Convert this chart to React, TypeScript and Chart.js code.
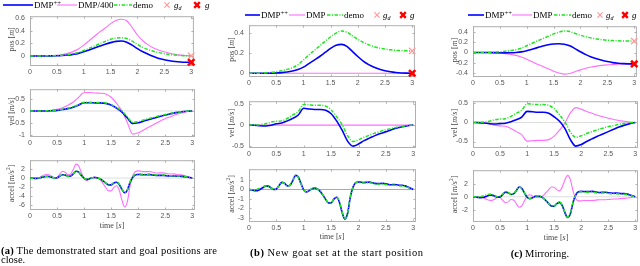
import React, { useEffect, useRef } from "react";
import { Chart, registerables } from "chart.js";

Chart.register(...registerables);

// ---------------- DATA ----------------
const timeCoarse = [0, 0.1, 0.2, 0.3, 0.4, 0.5, 0.6, 0.7, 0.8, 0.9, 1, 1.1, 1.2, 1.3, 1.4, 1.5, 1.6, 1.7, 1.8, 1.9, 2, 2.1, 2.2, 2.3, 2.4, 2.5, 2.6, 2.7, 2.8, 2.9, 3];
const timeFine = [
  0, 0.05, 0.1, 0.15, 0.2, 0.25, 0.3, 0.35, 0.4, 0.45,
  0.5, 0.55, 0.6, 0.65, 0.7, 0.75, 0.8, 0.85, 0.9, 0.95,
  1, 1.05, 1.1, 1.15, 1.2, 1.25, 1.3, 1.35, 1.4, 1.45,
  1.5, 1.55, 1.6, 1.65, 1.7, 1.75, 1.8, 1.85, 1.9, 1.95,
  2, 2.05, 2.1, 2.15, 2.2, 2.25, 2.3, 2.35, 2.4, 2.45,
  2.5, 2.55, 2.6, 2.65, 2.7, 2.75, 2.8, 2.85, 2.9, 2.95,
  3,
];
const timeEnds = [0, 3];
const zeroEnds = [0, 0];

const xTickValues = [0, 0.5, 1, 1.5, 2, 2.5, 3];
const xTickLabels = ["0", "0.5", "1", "1.5", "2", "2.5", "3"];

// (a) demonstrated start and goal close
const posDmppA = [0, 0, 0, 0, 0.001, 0.003, 0.007, 0.014, 0.025, 0.04, 0.065, 0.095, 0.125, 0.155, 0.185, 0.21, 0.23, 0.235, 0.215, 0.17, 0.115, 0.065, 0.025, -0.01, -0.04, -0.06, -0.075, -0.087, -0.095, -0.099, -0.1];
const posDmp400A = [0, 0, 0, 0.001, 0.004, 0.01, 0.022, 0.04, 0.068, 0.11, 0.17, 0.24, 0.31, 0.38, 0.44, 0.51, 0.56, 0.58, 0.555, 0.45, 0.33, 0.24, 0.175, 0.125, 0.09, 0.065, 0.042, 0.025, 0.012, 0.004, 0];
const posDemoA = [0, 0, 0, 0.001, 0.003, 0.006, 0.012, 0.022, 0.036, 0.055, 0.085, 0.12, 0.157, 0.194, 0.23, 0.262, 0.282, 0.287, 0.275, 0.235, 0.18, 0.135, 0.1, 0.073, 0.052, 0.036, 0.023, 0.013, 0.006, 0.002, 0];
const velDmppA = [0, 0, 0, 0, 0.01, 0.025, 0.06, 0.1, 0.16, 0.25, 0.35, 0.35, 0.34, 0.34, 0.32, 0.25, 0.12, -0.05, -0.3, -0.53, -0.5, -0.43, -0.36, -0.3, -0.23, -0.17, -0.12, -0.07, -0.035, -0.01, 0];
const velDmp400A = [0, 0, 0, 0.01, 0.03, 0.07, 0.14, 0.24, 0.38, 0.58, 0.78, 0.78, 0.76, 0.75, 0.72, 0.58, 0.32, 0, -0.5, -0.98, -0.92, -0.8, -0.68, -0.55, -0.43, -0.33, -0.24, -0.15, -0.08, -0.03, 0];
const velDemoA = [0, 0, 0, 0.005, 0.015, 0.035, 0.07, 0.12, 0.18, 0.27, 0.37, 0.37, 0.36, 0.36, 0.34, 0.27, 0.15, 0, -0.25, -0.48, -0.45, -0.38, -0.32, -0.26, -0.2, -0.15, -0.1, -0.06, -0.03, -0.01, 0];
const accDmppA = [
  0, -0.04, -0.08, -0.04, 0.1, 0.25, 0.36, 0.35, 0.18, 0.02,
  0.07, 0.42, 0.75, 0.66, 0.38, 0.45, 0.95, 1.5, 1.3, 0.6,
  -0.06, -0.3, -0.14, 0.06, 0.12, 0.03, -0.22, -0.63, -1.1, -1.5,
  -1.5, -1.1, -0.92, -1.45, -2.55, -3.25, -2.65, -0.95, 0.2, 0.7,
  0.8, 0.76, 0.73, 0.74, 0.76, 0.7, 0.62, 0.58, 0.6, 0.6,
  0.55, 0.48, 0.45, 0.47, 0.44, 0.39, 0.38, 0.32, 0.23, 0.11,
  0,
];
const accDmp400A = [
  0, -0.05, -0.12, 0, 0.3, 0.6, 0.8, 0.75, 0.4, 0.05,
  0.15, 0.9, 1.5, 1.3, 0.75, 0.9, 1.9, 3.1, 2.7, 1.2,
  -0.1, -0.55, -0.25, 0.15, 0.25, 0.1, -0.4, -1.2, -2.1, -2.85,
  -2.85, -2.05, -1.7, -2.7, -4.9, -6.4, -5.2, -1.7, 0.5, 1.45,
  1.6, 1.5, 1.42, 1.42, 1.45, 1.35, 1.2, 1.12, 1.15, 1.15,
  1.08, 0.95, 0.9, 0.92, 0.85, 0.75, 0.7, 0.55, 0.38, 0.18,
  0,
];
const accDemoA = [
  0, -0.03, -0.06, 0, 0.15, 0.3, 0.4, 0.38, 0.2, 0.03,
  0.08, 0.45, 0.78, 0.68, 0.4, 0.47, 0.98, 1.55, 1.35, 0.62,
  -0.05, -0.28, -0.12, 0.08, 0.14, 0.05, -0.2, -0.6, -1.05, -1.42,
  -1.42, -1.02, -0.85, -1.35, -2.45, -3.15, -2.55, -0.85, 0.3, 0.82,
  0.92, 0.88, 0.85, 0.86, 0.88, 0.8, 0.72, 0.68, 0.7, 0.7,
  0.64, 0.56, 0.52, 0.54, 0.5, 0.44, 0.42, 0.35, 0.25, 0.12,
  0,
];
const goalDemoA = 0;
const goalNewA = -0.1;

// demonstration shared by (b) and (c)
const posDemo = [0, 0, 0.001, 0.003, 0.008, 0.015, 0.025, 0.038, 0.055, 0.085, 0.13, 0.18, 0.225, 0.27, 0.315, 0.36, 0.395, 0.418, 0.405, 0.37, 0.335, 0.305, 0.28, 0.262, 0.248, 0.238, 0.231, 0.226, 0.223, 0.221, 0.22];
const velDemo = [0, 0.002, 0.01, 0.03, 0.07, 0.09, 0.1, 0.16, 0.24, 0.32, 0.49, 0.48, 0.47, 0.47, 0.45, 0.36, 0.2, 0.01, -0.25, -0.39, -0.35, -0.29, -0.24, -0.19, -0.15, -0.11, -0.08, -0.05, -0.03, -0.01, 0];
const accDemo = [
  0, -0.02, -0.05, 0.02, 0.15, 0.28, 0.38, 0.35, 0.18, 0.02,
  0.08, 0.45, 0.75, 0.65, 0.38, 0.45, 0.95, 1.5, 1.3, 0.6,
  -0.05, -0.25, -0.1, 0.1, 0.15, 0.05, -0.2, -0.6, -1.05, -1.4,
  -1.4, -1.0, -0.8, -1.3, -2.4, -3.1, -2.5, -0.8, 0.25, 0.7,
  0.75, 0.7, 0.68, 0.7, 0.72, 0.65, 0.58, 0.55, 0.57, 0.58,
  0.52, 0.46, 0.44, 0.46, 0.43, 0.38, 0.38, 0.32, 0.22, 0.1,
  0,
];

// (b) new goal at the start position
const posDmppB = [0, 0, 0, 0, 0.001, 0.003, 0.006, 0.012, 0.022, 0.037, 0.06, 0.095, 0.13, 0.165, 0.205, 0.245, 0.275, 0.285, 0.265, 0.215, 0.165, 0.12, 0.085, 0.06, 0.04, 0.025, 0.014, 0.007, 0.003, 0.001, 0];
const velDmppB = [0, -0.005, -0.015, -0.02, -0.005, 0.03, 0.05, 0.1, 0.16, 0.24, 0.4, 0.38, 0.37, 0.37, 0.35, 0.27, 0.1, -0.12, -0.38, -0.5, -0.45, -0.37, -0.31, -0.25, -0.2, -0.16, -0.11, -0.07, -0.04, -0.015, 0];
const accDmppB = [
  0, -0.05, -0.12, -0.12, 0, 0.18, 0.35, 0.35, 0.18, 0,
  0.05, 0.42, 0.75, 0.66, 0.38, 0.45, 0.95, 1.5, 1.32, 0.62,
  -0.05, -0.27, -0.12, 0.08, 0.14, 0.05, -0.2, -0.6, -1.05, -1.42,
  -1.42, -1.02, -0.82, -1.32, -2.42, -3.15, -2.55, -0.82, 0.25, 0.72,
  0.8, 0.76, 0.74, 0.76, 0.78, 0.72, 0.65, 0.62, 0.64, 0.65,
  0.6, 0.53, 0.5, 0.52, 0.5, 0.45, 0.45, 0.38, 0.27, 0.13,
  0,
];
const dmpB = [0, 0];
const goalDemoB = 0.22;
const goalNewB = 0;

// (c) mirroring
const posDmppC = [0, 0, 0, 0, -0.002, -0.005, -0.006, -0.005, 0, 0.012, 0.035, 0.065, 0.095, 0.125, 0.15, 0.165, 0.17, 0.16, 0.13, 0.075, 0.015, -0.04, -0.085, -0.12, -0.15, -0.175, -0.195, -0.207, -0.215, -0.219, -0.22];
const posDmpC = [0, 0, -0.001, -0.003, -0.008, -0.015, -0.025, -0.038, -0.055, -0.085, -0.13, -0.18, -0.225, -0.27, -0.315, -0.36, -0.395, -0.418, -0.405, -0.37, -0.335, -0.305, -0.28, -0.262, -0.248, -0.238, -0.231, -0.226, -0.223, -0.221, -0.22];
const velDmppC = [0, -0.005, -0.015, -0.03, -0.04, -0.03, -0.02, 0.02, 0.07, 0.14, 0.29, 0.28, 0.27, 0.27, 0.24, 0.15, 0.03, -0.16, -0.45, -0.62, -0.58, -0.5, -0.43, -0.36, -0.3, -0.24, -0.18, -0.12, -0.07, -0.03, 0];
const velDmpC = [0, -0.002, -0.01, -0.03, -0.07, -0.09, -0.1, -0.16, -0.24, -0.32, -0.49, -0.48, -0.47, -0.47, -0.45, -0.36, -0.2, -0.01, 0.25, 0.39, 0.35, 0.29, 0.24, 0.19, 0.15, 0.11, 0.08, 0.05, 0.03, 0.01, 0];
const accDmppC = [
  0, -0.04, -0.12, -0.15, -0.08, 0.08, 0.22, 0.25, 0.12, -0.05,
  -0.02, 0.35, 0.7, 0.62, 0.35, 0.43, 0.93, 1.48, 1.3, 0.6,
  -0.08, -0.3, -0.15, 0.06, 0.12, 0.04, -0.2, -0.6, -1.05, -1.42,
  -1.44, -1.05, -0.85, -1.35, -2.45, -3.15, -2.6, -0.85, 0.28, 0.75,
  0.82, 0.8, 0.78, 0.8, 0.82, 0.76, 0.68, 0.65, 0.68, 0.68,
  0.62, 0.56, 0.54, 0.56, 0.53, 0.48, 0.48, 0.4, 0.28, 0.14,
  0,
];
const accDmpC = [
  0, 0.02, 0.03, -0.05, -0.2, -0.38, -0.52, -0.55, -0.38, -0.12,
  -0.12, -0.55, -0.88, -0.78, -0.42, -0.5, -1.05, -1.6, -1.4, -0.65,
  0.1, 0.3, 0.12, -0.08, -0.14, -0.04, 0.22, 0.65, 1.1, 1.48,
  1.45, 1.05, 0.9, 1.5, 2.6, 3.25, 2.6, 0.85, -0.3, -0.62,
  -0.62, -0.58, -0.56, -0.56, -0.58, -0.54, -0.48, -0.45, -0.45, -0.45,
  -0.42, -0.37, -0.34, -0.33, -0.3, -0.26, -0.24, -0.2, -0.14, -0.07,
  0,
];
const goalDemoC = 0.22;
const goalNewC = -0.22;

// y ticks
const posTicksA = [0, 0.2, 0.4, 0.6];
const posLabelsA = ["0", "0.2", "0.4", "0.6"];
const velTicksA = [-1, -0.5, 0, 0.5];
const velLabelsA = ["-1", "-0.5", "0", "0.5"];
const accTicksA = [-6, -4, -2, 0, 2];
const accLabelsA = ["-6", "-4", "-2", "0", "2"];
const posTicksB = [0, 0.2, 0.4];
const posLabelsB = ["0", "0.2", "0.4"];
const velTicksB = [-0.5, 0, 0.5];
const velLabelsB = ["-0.5", "0", "0.5"];
const accTicksB = [-3, -2, -1, 0, 1];
const accLabelsB = ["-3", "-2", "-1", "0", "1"];
const posTicksC = [-0.4, -0.2, 0, 0.2, 0.4];
const posLabelsC = ["-0.4", "-0.2", "0", "0.2", "0.4"];
const velTicksC = [-0.5, 0, 0.5];
const velLabelsC = ["-0.5", "0", "0.5"];
const accTicksC = [-2, 0, 2];
const accLabelsC = ["-2", "0", "2"];

// ---------------- STYLE ----------------
const BLUE = "#0000ff";
const PINK = "#ff6eff";
const GREEN = "#1ee61e";
const GOAL_D = "#ff9a9a";
const GOAL = "#ff0000";
const ZERO = "#dcdcdc";
const GREEN_DASH = [3.5, 1.5, 1, 1.5];
const SERIF = "'Liberation Serif', 'Times New Roman', serif";
const SANS = "'Liberation Sans', Arial, sans-serif";

const PAD_L = 30, PAD_R = 6, PAD_T = 6, PAD_B = 13;

type Line = { xs: number[]; ys: number[]; color: string; width: number; dash?: number[] };
type Goal = { x: number; y: number; color: string; width: number; radius: number };
type Sub = {
  box: [number, number, number, number];
  yMin: number; yMax: number;
  yTicks: number[]; yLabels: string[];
  lines: Line[]; goals: Goal[];
};

const zeroLine = (): Line => ({ xs: timeEnds, ys: zeroEnds, color: ZERO, width: 1 });
const goals = (gd: number, g: number): Goal[] => [
  { x: 3, y: g, color: GOAL, width: 2.6, radius: 4.5 },
  { x: 3, y: gd, color: GOAL_D, width: 1.3, radius: 4.5 },
];

const subplots: Sub[] = [
  // (a)
  { box: [30, 13, 195, 66], yMin: -0.159, yMax: 0.627, yTicks: posTicksA, yLabels: posLabelsA, goals: goals(goalDemoA, goalNewA),
    lines: [
      { xs: timeCoarse, ys: posDemoA, color: GREEN, width: 1.5, dash: GREEN_DASH },
      { xs: timeCoarse, ys: posDmppA, color: BLUE, width: 1.6 },
      { xs: timeCoarse, ys: posDmp400A, color: PINK, width: 1.1 },
    ] },
  { box: [30, 86, 195, 137], yMin: -1.1, yMax: 0.92, yTicks: velTicksA, yLabels: velLabelsA, goals: [],
    lines: [
      { xs: timeCoarse, ys: velDemoA, color: GREEN, width: 1.5, dash: GREEN_DASH },
      { xs: timeCoarse, ys: velDmppA, color: BLUE, width: 1.6 },
      { xs: timeCoarse, ys: velDmp400A, color: PINK, width: 1.1 },
      zeroLine(),
    ] },
  { box: [30, 157, 195, 210], yMin: -7.08, yMax: 3.96, yTicks: accTicksA, yLabels: accLabelsA, goals: [],
    lines: [
      { xs: timeFine, ys: accDemoA, color: GREEN, width: 1.5, dash: GREEN_DASH },
      { xs: timeFine, ys: accDmppA, color: BLUE, width: 1.6 },
      { xs: timeFine, ys: accDmp400A, color: PINK, width: 1.1 },
      zeroLine(),
    ] },
  // (b)
  { box: [249, 22, 416, 77], yMin: -0.037, yMax: 0.474, yTicks: posTicksB, yLabels: posLabelsB, goals: goals(goalDemoB, goalNewB),
    lines: [
      { xs: timeCoarse, ys: posDemo, color: GREEN, width: 1.5, dash: GREEN_DASH },
      { xs: timeCoarse, ys: posDmppB, color: BLUE, width: 1.6 },
      { xs: timeEnds, ys: dmpB, color: PINK, width: 1.1 },
    ] },
  { box: [249, 98, 416, 148], yMin: -0.544, yMax: 0.567, yTicks: velTicksB, yLabels: velLabelsB, goals: [],
    lines: [
      { xs: timeCoarse, ys: velDemo, color: GREEN, width: 1.5, dash: GREEN_DASH },
      { xs: timeCoarse, ys: velDmppB, color: BLUE, width: 1.6 },
      { xs: timeEnds, ys: dmpB, color: PINK, width: 1.1 },
    ] },
  { box: [249, 166, 416, 222], yMin: -3.45, yMax: 2.15, yTicks: accTicksB, yLabels: accLabelsB, goals: [],
    lines: [
      { xs: timeFine, ys: accDemo, color: GREEN, width: 1.5, dash: GREEN_DASH },
      { xs: timeFine, ys: accDmppB, color: BLUE, width: 1.6 },
      { xs: timeEnds, ys: dmpB, color: PINK, width: 1.1 },
    ] },
  // (c)
  { box: [473, 23, 638, 77], yMin: -0.473, yMax: 0.509, yTicks: posTicksC, yLabels: posLabelsC, goals: goals(goalDemoC, goalNewC),
    lines: [
      { xs: timeCoarse, ys: posDemo, color: GREEN, width: 1.5, dash: GREEN_DASH },
      { xs: timeCoarse, ys: posDmppC, color: BLUE, width: 1.6 },
      { xs: timeCoarse, ys: posDmpC, color: PINK, width: 1.1 },
    ] },
  { box: [473, 98, 638, 148], yMin: -0.67, yMax: 0.558, yTicks: velTicksC, yLabels: velLabelsC, goals: [],
    lines: [
      { xs: timeCoarse, ys: velDemo, color: GREEN, width: 1.5, dash: GREEN_DASH },
      { xs: timeCoarse, ys: velDmppC, color: BLUE, width: 1.6 },
      { xs: timeCoarse, ys: velDmpC, color: PINK, width: 1.1 },
      zeroLine(),
    ] },
  { box: [473, 167, 638, 222], yMin: -3.84, yMax: 4.04, yTicks: accTicksC, yLabels: accLabelsC, goals: [],
    lines: [
      { xs: timeFine, ys: accDemo, color: GREEN, width: 1.5, dash: GREEN_DASH },
      { xs: timeFine, ys: accDmppC, color: BLUE, width: 1.6 },
      { xs: timeFine, ys: accDmpC, color: PINK, width: 1.1 },
      zeroLine(),
    ] },
];

const boxPlugin = {
  id: "matlabBox",
  beforeDatasetsDraw(chart: any) {
    const { ctx, chartArea: a, scales } = chart;
    ctx.save();
    ctx.strokeStyle = "#b0b0b0";
    ctx.lineWidth = 1;
    ctx.strokeRect(a.left + 0.5, a.top + 0.5, a.right - a.left - 1, a.bottom - a.top - 1);
    ctx.beginPath();
    const L = 2.5;
    scales.x.ticks.forEach((t: any) => {
      const x = Math.round(scales.x.getPixelForValue(t.value)) + 0.5;
      ctx.moveTo(x, a.bottom); ctx.lineTo(x, a.bottom - L);
      ctx.moveTo(x, a.top); ctx.lineTo(x, a.top + L);
    });
    scales.y.ticks.forEach((t: any) => {
      const y = Math.round(scales.y.getPixelForValue(t.value)) + 0.5;
      ctx.moveTo(a.left, y); ctx.lineTo(a.left + L, y);
      ctx.moveTo(a.right, y); ctx.lineTo(a.right - L, y);
    });
    ctx.stroke();
    ctx.restore();
  },
};

function Plot({ sub }: { sub: Sub }) {
  const ref = useRef<HTMLCanvasElement>(null);
  const [l, t, r, b] = sub.box;
  const w = r - l + PAD_L + PAD_R;
  const h = b - t + PAD_T + PAD_B;
  useEffect(() => {
    const datasets: any[] = [];
    sub.goals.forEach((g) =>
      datasets.push({
        data: [{ x: g.x, y: g.y }],
        showLine: false,
        pointStyle: "crossRot",
        pointRadius: g.radius,
        pointBorderWidth: g.width,
        pointBorderColor: g.color,
        pointBackgroundColor: g.color,
        borderColor: g.color,
        clip: false,
      })
    );
    sub.lines.forEach((s) =>
      datasets.push({
        data: s.xs.map((x, i) => ({ x, y: s.ys[i] })),
        borderColor: s.color,
        borderWidth: s.width,
        borderDash: s.dash || [],
        pointRadius: 0,
        cubicInterpolationMode: "monotone",
        fill: false,
      })
    );
    const tickFont = { family: SANS, size: 7 };
    const chart = new Chart(ref.current as HTMLCanvasElement, {
      type: "line",
      data: { datasets },
      options: {
        animation: false,
        responsive: false,
        maintainAspectRatio: false,
        devicePixelRatio: 1,
        events: [],
        layout: { padding: { left: 0, right: PAD_R, top: PAD_T, bottom: 0 } },
        plugins: { legend: { display: false }, tooltip: { enabled: false } },
        scales: {
          x: {
            type: "linear",
            min: 0,
            max: 3.05,
            grid: { display: false, drawTicks: false },
            border: { display: false },
            ticks: { font: tickFont, color: "#555", padding: 2, maxRotation: 0, autoSkip: false, callback: (_v: any, i: number) => xTickLabels[i] },
            afterBuildTicks: (s: any) => { s.ticks = xTickValues.map((v) => ({ value: v })); },
            afterFit: (s: any) => { s.height = PAD_B; },
          },
          y: {
            type: "linear",
            min: sub.yMin,
            max: sub.yMax,
            grid: { display: false, drawTicks: false },
            border: { display: false },
            ticks: { font: tickFont, color: "#555", padding: 5, autoSkip: false, callback: (_v: any, i: number) => sub.yLabels[i] },
            afterBuildTicks: (s: any) => { s.ticks = sub.yTicks.map((v) => ({ value: v })); },
            afterFit: (s: any) => { s.width = PAD_L; },
          },
        },
      } as any,
      plugins: [boxPlugin],
    });
    return () => chart.destroy();
  }, []);
  return (
    <canvas
      ref={ref}
      width={w}
      height={h}
      style={{ position: "absolute", left: l - PAD_L, top: t - PAD_T, width: w, height: h }}
    />
  );
}

type LegendSpec = {
  y: number; blue: [number, number]; dmppX: number; pink: [number, number]; dmpX: number; dmpLabel: string;
  green: [number, number]; demoX: number; gdX: number; gdTextX: number; gX: number; gTextX: number;
};

const legends: LegendSpec[] = [
  { y: 5, blue: [3, 33], dmppX: 34, pink: [57, 77], dmpX: 78, dmpLabel: "DMP/400", green: [114, 132], demoX: 133, gdX: 167, gdTextX: 174, gX: 197, gTextX: 205 },
  { y: 15, blue: [245, 260], dmppX: 261, pink: [289, 305], dmpX: 306, dmpLabel: "DMP", green: [327, 343], demoX: 344, gdX: 377, gdTextX: 383, gX: 403, gTextX: 410 },
  { y: 15, blue: [468, 484], dmppX: 485, pink: [512, 532], dmpX: 533, dmpLabel: "DMP", green: [554, 571], demoX: 572, gdX: 600, gdTextX: 606, gX: 625, gTextX: 632 },
];

function XMark({ cx, cy, s, color, w }: { cx: number; cy: number; s: number; color: string; w: number }) {
  return (
    <g stroke={color} strokeWidth={w}>
      <line x1={cx - s} y1={cy - s} x2={cx + s} y2={cy + s} />
      <line x1={cx - s} y1={cy + s} x2={cx + s} y2={cy - s} />
    </g>
  );
}

function Legend({ s }: { s: LegendSpec }) {
  const base = s.y + 3;
  return (
    <g fontFamily={SERIF} fontSize={9} fill="#000">
      <line x1={s.blue[0]} x2={s.blue[1]} y1={s.y} y2={s.y} stroke={BLUE} strokeWidth={1.6} />
      <text x={s.dmppX} y={base}>DMP<tspan fontSize={6.5} dy={-3.5}>++</tspan></text>
      <line x1={s.pink[0]} x2={s.pink[1]} y1={s.y} y2={s.y} stroke={PINK} strokeWidth={1.1} />
      <text x={s.dmpX} y={base}>{s.dmpLabel}</text>
      <line x1={s.green[0]} x2={s.green[1]} y1={s.y} y2={s.y} stroke={GREEN} strokeWidth={1.5} strokeDasharray={GREEN_DASH.join(" ")} />
      <text x={s.demoX} y={base}>demo</text>
      <XMark cx={s.gdX} cy={s.y} s={2.6} color={GOAL_D} w={1.2} />
      <text x={s.gdTextX} y={base} fontStyle="italic">g<tspan fontSize={6} dy={2}>d</tspan></text>
      <XMark cx={s.gX} cy={s.y} s={2.8} color={GOAL} w={2.4} />
      <text x={s.gTextX} y={base} fontStyle="italic">g</text>
    </g>
  );
}

function YTitle({ x, y, kind }: { x: number; y: number; kind: string }) {
  return (
    <text x={x} y={y} transform={`rotate(-90 ${x} ${y})`} textAnchor="middle" dominantBaseline="central"
      fontFamily={SERIF} fontSize={8} fill="#444">
      {kind === "pos" && (<>pos [<tspan fontStyle="italic">m</tspan>]</>)}
      {kind === "vel" && (<>vel [<tspan fontStyle="italic">m/s</tspan>]</>)}
      {kind === "acc" && (<>accel [<tspan fontStyle="italic">m/s</tspan><tspan fontSize={5.5} dy={-3}>2</tspan><tspan dy={3}>]</tspan></>)}
    </text>
  );
}

function XTitle({ x, y }: { x: number; y: number }) {
  return (
    <text x={x} y={y} textAnchor="middle" dominantBaseline="central" fontFamily={SERIF} fontSize={8} fill="#444">
      time [<tspan fontStyle="italic">s</tspan>]
    </text>
  );
}

export default function App() {
  return (
    <div style={{ position: "fixed", left: 0, top: 0, width: 640, height: 266, background: "#fff", overflow: "hidden" }}>
      {subplots.map((s, i) => (
        <Plot key={i} sub={s} />
      ))}
      <svg width={640} height={266} style={{ position: "absolute", left: 0, top: 0, pointerEvents: "none" }}>
        {legends.map((s, i) => (
          <Legend key={i} s={s} />
        ))}
        <YTitle x={11} y={39.5} kind="pos" />
        <YTitle x={11} y={111.5} kind="vel" />
        <YTitle x={11} y={183.5} kind="acc" />
        <YTitle x={231} y={49.5} kind="pos" />
        <YTitle x={231} y={123} kind="vel" />
        <YTitle x={231} y={194} kind="acc" />
        <YTitle x={454} y={50} kind="pos" />
        <YTitle x={454} y={123} kind="vel" />
        <YTitle x={454} y={194.5} kind="acc" />
        <XTitle x={112} y={225} />
        <XTitle x={332} y={236} />
        <XTitle x={556} y={237} />
        <g fontFamily={SERIF} fontSize={10.5} fill="#000">
          <text x={1} y={253.5} textLength={216} lengthAdjust="spacing">
            <tspan fontWeight="bold">(a)</tspan> The demonstrated start and goal positions are
          </text>
          <text x={1} y={262.5}>close.</text>
          <text x={250} y={255.5} textLength={173} lengthAdjust="spacing">
            <tspan fontWeight="bold">(b)</tspan> New goat set at the start position
          </text>
          <text x={540} y={256.5} textAnchor="middle">
            <tspan fontWeight="bold">(c)</tspan> Mirroring.
          </text>
        </g>
      </svg>
    </div>
  );
}
